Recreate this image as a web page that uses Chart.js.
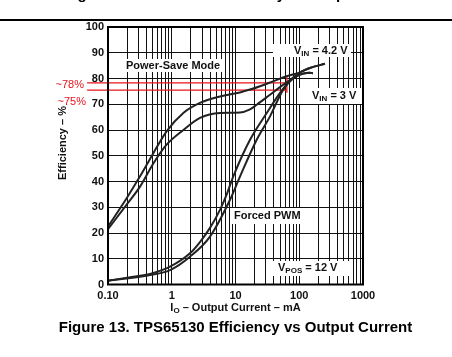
<!DOCTYPE html>
<html><head><meta charset="utf-8">
<script src="https://cdn.jsdelivr.net/npm/chart.js@4"></script>
<style>html,body{margin:0;padding:0;background:#fff}#wrap{width:452px;height:357px;position:relative}</style>
</head><body><div id="wrap"><canvas id="c" width="452" height="357"></canvas></div>
<script>
// Output current (mA) and efficiency (%)
const psHighI = [0.1,0.196,0.318,0.514,0.83,1.52,2.77,5.71,11.75,16.9,24.2,38.7,63.4,102.7,147,253];
const psHighE = [22.5,33.5,42,51,59.5,66.6,70.5,73,74.6,75.7,77,78.9,80.9,82.4,84.1,85.7];
const psLowI  = [0.1,0.196,0.318,0.514,0.83,1.52,2.77,5.71,11.75,16.9,21.5,34.8,56.2,91.3,147,164];
const psLowE  = [21.5,31,38,47,54.3,60,64.7,66.6,66.8,68,69.8,73.7,77.6,80.9,82.2,82];
const pwmHighI = [0.1,0.249,0.456,0.939,1.93,2.77,3.98,5.71,7.28,9.24,16.9,30.9,49.9,70,102.7,147,253];
const pwmHighE = [1.5,3.0,4.1,6.9,12.1,16.5,22,29,35,42,56.2,66.6,74.4,79,82.4,84.1,85.7];
const pwmLowI = [0.1,0.456,0.939,1.93,3.98,8.2,11.75,21.5,34.8,56.2,91.3,147,164];
const pwmLowE = [1.5,3.7,5.6,10.8,18.6,32.9,41.9,56.2,65.3,75.7,80.9,82.2,82];
// Red marker lines
const markerLevels = [78.3, 75.5];
const markerLabels = ['~78%', '~75%'];
const markerStartI = 0.047, markerEndI = 64;
const markerVertical = [80.5, 74.5];
// Axis tick labels
const xTickValues = [0.1,1,10,100,1000];
const xTickLabels = ['0.10','1','10','100','1000'];

const FONT = '"Liberation Sans", Arial, sans-serif';
const pts = (xs, ys) => xs.map((x, i) => ({x, y: ys[i]}));
const curve = (xs, ys) => ({data: pts(xs, ys), borderColor: '#222', borderWidth: 2, pointRadius: 0, showLine: true, cubicInterpolationMode: 'monotone', fill: false});
const redLine = (data) => ({data, borderColor: '#e8141b', borderWidth: 1.3, pointRadius: 0, showLine: true, clip: false, fill: false});

const allTicks = [];
for (let d = -1; d <= 2; d++) for (let m = 1; m <= 9; m++) allTicks.push(+(m * Math.pow(10, d)).toPrecision(3));
allTicks.push(1000);

const overlay = {
  id: 'overlay',
  afterDatasetsDraw(chart) {
    const ctx = chart.ctx, a = chart.chartArea;
    ctx.save();
    // frame
    ctx.strokeStyle = '#000'; ctx.lineWidth = 2;
    ctx.strokeRect(a.left, a.top, a.right - a.left, a.bottom - a.top);
    // label boxes
    function box(x, y, w, h) { ctx.fillStyle = '#fff'; ctx.fillRect(x, y, w, h); }
    ctx.textBaseline = 'middle';
    box(123, 59, 99, 13);
    ctx.fillStyle = '#111'; ctx.font = 'bold 11px ' + FONT; ctx.textAlign = 'left';
    ctx.fillText('Power-Save Mode', 126, 65.5);
    function sub(main, subs, rest, x, y) {
      ctx.font = 'bold 11px ' + FONT; ctx.fillText(main, x, y);
      let w = ctx.measureText(main).width;
      ctx.font = 'bold 8px ' + FONT; ctx.fillText(subs, x + w, y + 3);
      let w2 = ctx.measureText(subs).width;
      ctx.font = 'bold 11px ' + FONT; ctx.fillText(rest, x + w + w2, y);
    }
    box(273, 44, 78, 13);
    ctx.fillStyle = '#111'; sub('V', 'IN', ' = 4.2 V', 294, 50.5);
    box(297, 88, 64, 16);
    ctx.fillStyle = '#111'; sub('V', 'IN', ' = 3 V', 312, 96);
    box(232, 208, 68, 16);
    ctx.fillStyle = '#111'; ctx.font = 'bold 11px ' + FONT; ctx.fillText('Forced PWM', 234, 216);
    box(272, 261, 78, 15);
    ctx.fillStyle = '#111'; sub('V', 'POS', ' = 12 V', 278, 267.5);
    // red labels
    ctx.fillStyle = '#e8141b'; ctx.font = '11px ' + FONT; ctx.textAlign = 'right';
    ctx.fillText(markerLabels[0], 84, 85);
    ctx.fillText(markerLabels[1], 86, 102);
    // axis titles
    ctx.fillStyle = '#111'; ctx.font = 'bold 11px ' + FONT; ctx.textAlign = 'center';
    ctx.save(); ctx.translate(63, 143); ctx.rotate(-Math.PI / 2);
    ctx.fillText('Efficiency \u2013 %', 0, 0); ctx.restore();
    ctx.textAlign = 'left';
    const t1 = 'I', t2 = 'O', t3 = ' \u2013 Output Current \u2013 mA';
    ctx.font = 'bold 11px ' + FONT; const w1 = ctx.measureText(t1).width, w3 = ctx.measureText(t3).width;
    ctx.font = 'bold 8px ' + FONT; const w2 = ctx.measureText(t2).width;
    let sx = 235.5 - (w1 + w2 + w3) / 2;
    ctx.font = 'bold 11px ' + FONT; ctx.fillText(t1, sx, 308);
    ctx.font = 'bold 8px ' + FONT; ctx.fillText(t2, sx + w1, 311);
    ctx.font = 'bold 11px ' + FONT; ctx.fillText(t3, sx + w1 + w2, 308);
    // caption
    ctx.font = 'bold 15px ' + FONT; ctx.textAlign = 'center'; ctx.fillStyle = '#000';
    ctx.fillText('Figure 13. TPS65130 Efficiency vs Output Current', 235.5, 328);
    ctx.textBaseline = 'alphabetic';
    ctx.fillText('Figure 12. TPS65130 Efficiency vs Output Current', 241, -1);
    // top rule
    ctx.fillStyle = '#000'; ctx.fillRect(0, 19, 452, 2);
    ctx.restore();
  }
};

new Chart(document.getElementById('c'), {
  type: 'scatter',
  data: {
    datasets: [
      curve(psHighI, psHighE), curve(psLowI, psLowE), curve(pwmHighI, pwmHighE), curve(pwmLowI, pwmLowE),
      redLine([{x: markerStartI, y: markerLevels[0]}, {x: markerEndI, y: markerLevels[0]}]),
      redLine([{x: markerStartI, y: markerLevels[1]}, {x: markerEndI, y: markerLevels[1]}]),
      redLine([{x: markerEndI, y: markerVertical[0]}, {x: markerEndI, y: markerVertical[1]}])
    ]
  },
  options: {
    responsive: false, animation: false, devicePixelRatio: 1,
    layout: {padding: {left: 0, right: 89, top: 27, bottom: 0}},
    plugins: {legend: {display: false}, tooltip: {enabled: false}},
    scales: {
      x: {
        type: 'logarithmic', min: 0.1, max: 1000,
        afterBuildTicks: s => { s.ticks = allTicks.map(v => ({value: v})); },
        afterFit: s => { s.height = 72.5; },
        ticks: {autoSkip: false, maxRotation: 0, color: '#111', padding: 5,
          font: {family: FONT, size: 11, weight: 'bold'},
          callback: v => { const i = xTickValues.indexOf(+(+v).toPrecision(3)); return i >= 0 ? xTickLabels[i] : ''; }},
        grid: {color: '#111', lineWidth: 1, drawTicks: false},
        border: {display: false}
      },
      y: {
        min: 0, max: 100,
        afterFit: s => { s.width = 108; },
        ticks: {stepSize: 10, color: '#111', padding: 4, font: {family: FONT, size: 11, weight: 'bold'}},
        grid: {color: '#111', lineWidth: 1, drawTicks: false},
        border: {display: false}
      }
    }
  },
  plugins: [overlay]
});
</script></body></html>
